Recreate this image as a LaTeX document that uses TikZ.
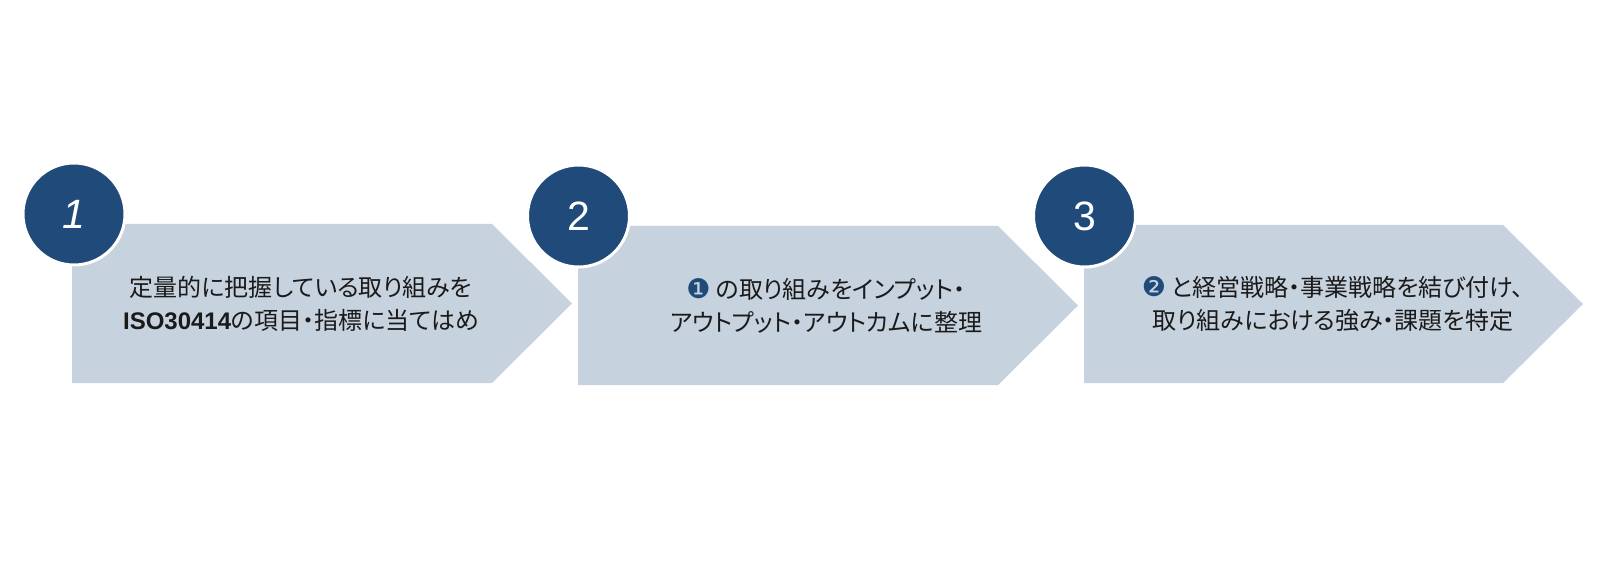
\documentclass[tikz,border=0pt]{standalone}
\usepackage{fontspec}
\setmainfont{Liberation Sans}
\newfontfamily\jp[RawFeature=+palt]{Noto Sans CJK JP}
\newfontfamily\dingfont{DejaVu Sans}
\definecolor{navy}{HTML}{1F4A7A}
\definecolor{chev}{HTML}{C7D2DF}
\definecolor{ink}{HTML}{1A1A1A}
\tikzset{
  chevron/.style={fill=chev, draw=none},
  numdisc/.style={circle, fill=navy, draw=white, line width=3pt, minimum size=102pt, inner sep=0pt,
    text=white, font=\fontsize{41}{41}\selectfont},
  label/.style={align=center, text=ink, inner sep=0pt, font=\jp\fontsize{24}{33}\selectfont},
}
\newcommand{\blackone}[1]{{\dingfont\fontsize{27}{27}\selectfont\textcolor{navy}{#1}}}
\begin{document}
\begin{tikzpicture}[x=1pt,y=-1pt]
\useasboundingbox (0,0) rectangle (1600,569);
\fill[white] (0,0) rectangle (1600,569);
% chevrons
\path[chevron] (72,224) -- (492,224) -- (572,303.5) -- (492,383) -- (72,383) -- cycle;
\path[chevron] (578,226) -- (998,226) -- (1078,305.5) -- (998,385) -- (578,385) -- cycle;
\path[chevron] (1084,225) -- (1503,225) -- (1583,304) -- (1503,383) -- (1084,383) -- cycle;
% number discs
\node[numdisc] (c1) at (74,214) {\itshape 1};
\node[numdisc] (c2) at (578.5,216) {2};
\node[numdisc] (c3) at (1084.5,216) {3};
% labels
\node[label] (t1) at (301,304) {定量的に把握している取り組みを\\{\fontspec{Liberation Sans}\bfseries ISO30414}の項目・指標に当てはめ};
\node[label] (t2) at (826,305.5) {\blackone{❶} の取り組みをインプット・\\アウトプット・アウトカムに整理};
\node[label] (t3) at (1333,304) {\blackone{❷} と経営戦略・事業戦略を結び付け、\\取り組みにおける強み・課題を特定};
\end{tikzpicture}
\end{document}
